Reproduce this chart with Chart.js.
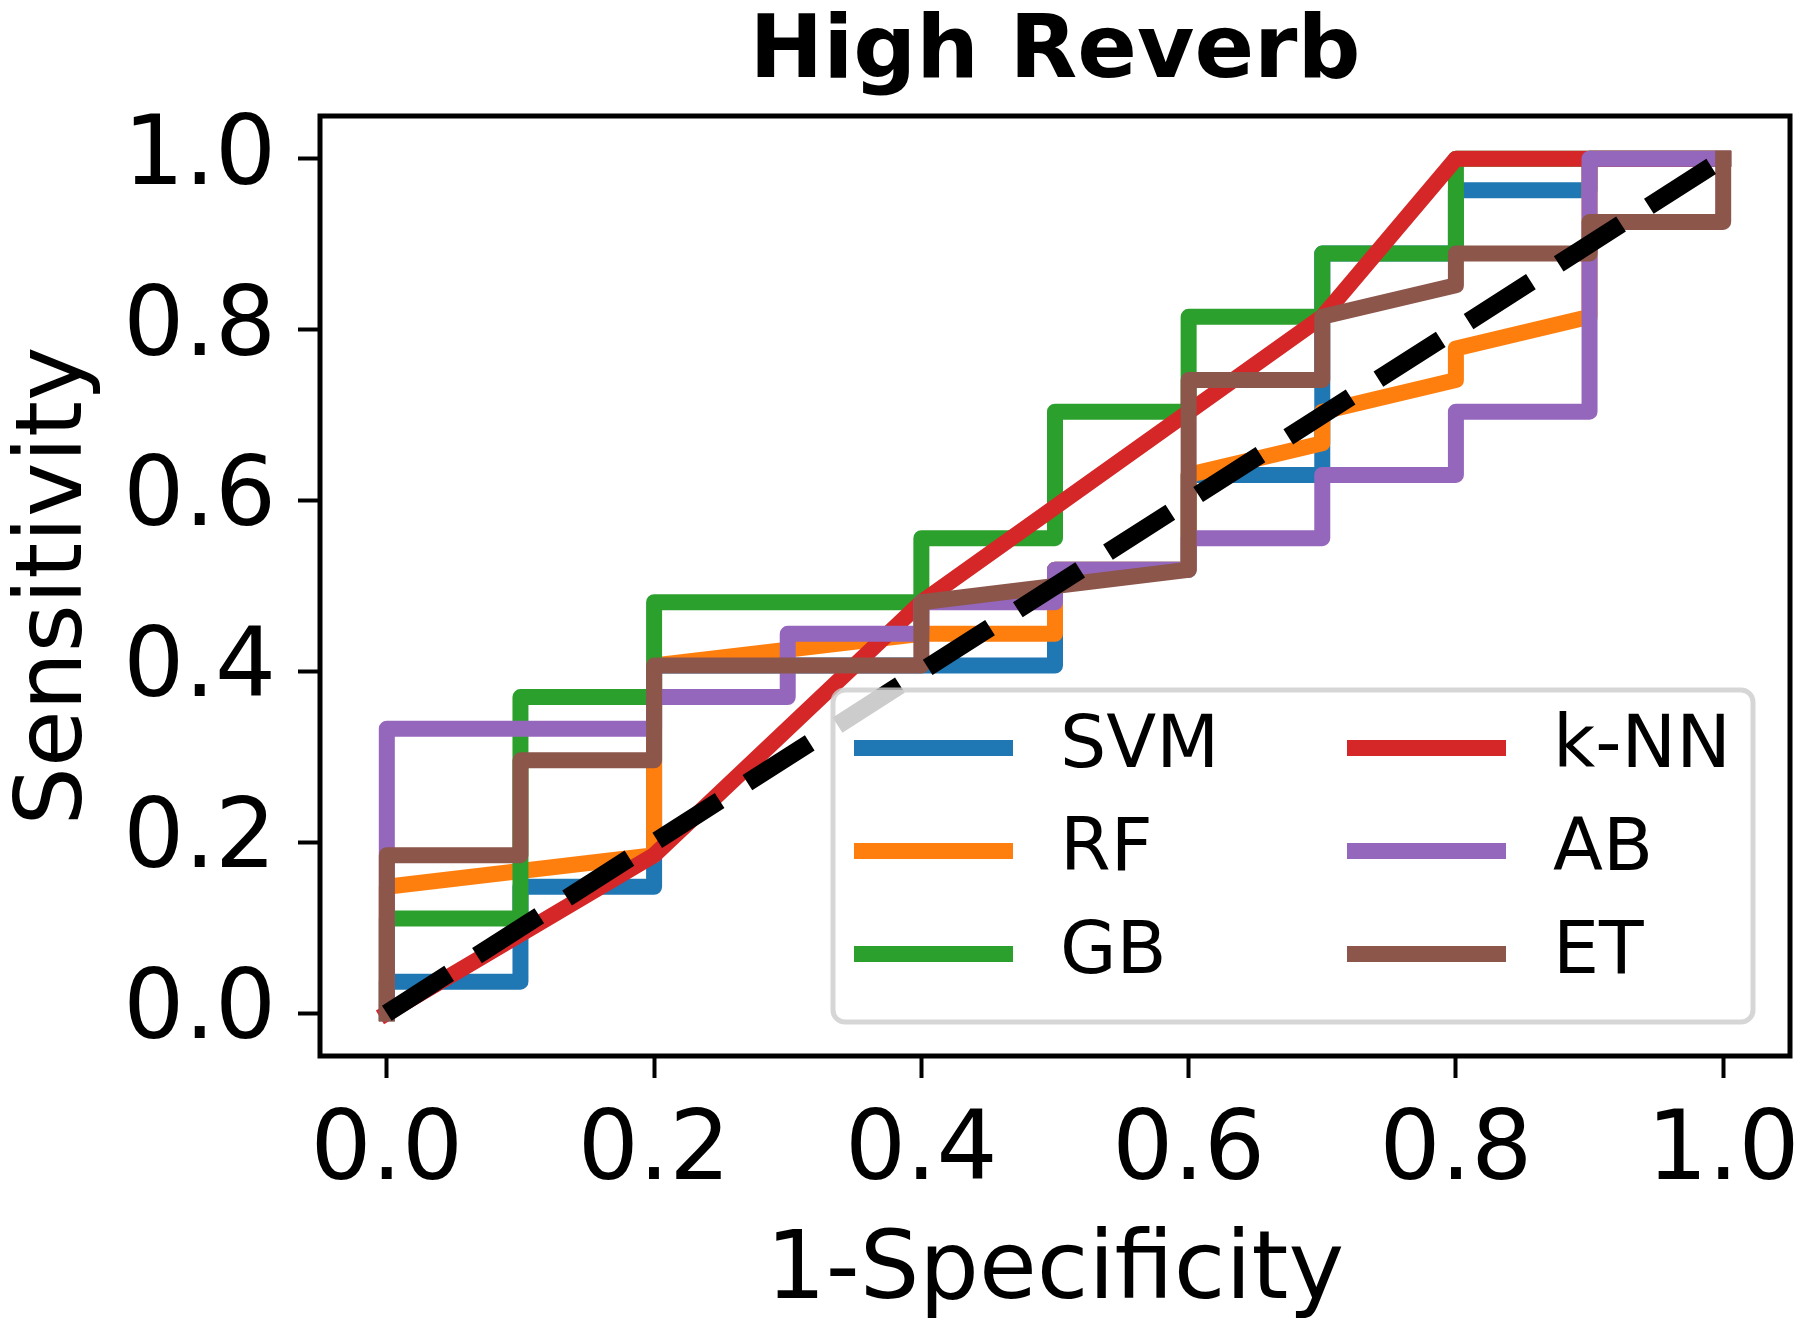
<!DOCTYPE html>
<html>
<head>
<meta charset="utf-8">
<script src="https://cdn.jsdelivr.net/npm/chart.js@4.4.1/dist/chart.umd.min.js"></script>
<style>
  html, body { margin: 0; padding: 0; background: #ffffff; }
  #wrap { width: 1800px; height: 1324px; }
</style>
</head>
<body>
<div id="wrap"><canvas id="c" width="1800" height="1324"></canvas></div>
<script>
// ---------- data ----------
const titleText = 'High Reverb';
const xLabel = '1-Specificity';
const yLabel = 'Sensitivity';
const tickValues = [0.0, 0.2, 0.4, 0.6, 0.8, 1.0];

const seriesNames  = ['SVM', 'RF', 'GB', 'k-NN', 'AB', 'ET'];
const seriesColors = ['#1f77b4', '#ff7f0e', '#2ca02c', '#d62728', '#9467bd', '#8c564b'];

const svmFpr = [0, 0, 0.1, 0.1, 0.2, 0.2, 0.5, 0.5, 0.6, 0.6, 0.7, 0.7, 0.8, 0.8, 0.9, 0.9, 1.0];
const svmTpr = [0, 0.037, 0.037, 0.148, 0.148, 0.407, 0.407, 0.519, 0.519, 0.630, 0.630, 0.889, 0.889, 0.963, 0.963, 1.0, 1.0];

const rfFpr = [0, 0, 0.2, 0.2, 0.4, 0.5, 0.5, 0.6, 0.6, 0.7, 0.7, 0.8, 0.8, 0.9, 0.9, 1.0];
const rfTpr = [0, 0.148, 0.185, 0.407, 0.444, 0.444, 0.519, 0.519, 0.630, 0.667, 0.704, 0.741, 0.778, 0.815, 1.0, 1.0];

const gbFpr = [0, 0, 0.1, 0.1, 0.2, 0.2, 0.4, 0.4, 0.5, 0.5, 0.6, 0.6, 0.7, 0.7, 0.8, 0.8, 1.0];
const gbTpr = [0, 0.111, 0.111, 0.370, 0.370, 0.481, 0.481, 0.556, 0.556, 0.704, 0.704, 0.815, 0.815, 0.889, 0.889, 1.0, 1.0];

const knnFpr = [0, 0.2, 0.4, 0.7, 0.8, 1.0];
const knnTpr = [0, 0.185, 0.481, 0.815, 1.0, 1.0];

const abFpr = [0, 0, 0.2, 0.2, 0.3, 0.3, 0.4, 0.4, 0.5, 0.5, 0.6, 0.6, 0.7, 0.7, 0.8, 0.8, 0.9, 0.9, 1.0];
const abTpr = [0, 0.333, 0.333, 0.370, 0.370, 0.444, 0.444, 0.481, 0.481, 0.519, 0.519, 0.556, 0.556, 0.630, 0.630, 0.704, 0.704, 1.0, 1.0];

const etFpr = [0, 0, 0.1, 0.1, 0.2, 0.2, 0.4, 0.4, 0.6, 0.6, 0.7, 0.7, 0.8, 0.8, 0.9, 0.9, 1.0, 1.0];
const etTpr = [0, 0.185, 0.185, 0.296, 0.296, 0.407, 0.407, 0.481, 0.519, 0.741, 0.741, 0.815, 0.852, 0.889, 0.889, 0.926, 0.926, 1.0];

const chanceFpr = [0, 1];
const chanceTpr = [0, 1];

// ---------- helpers ----------
const FONT = '"DejaVu Sans", "Liberation Sans", sans-serif';
function pts(xs, ys) { return xs.map((x, i) => ({ x: x, y: ys[i] })); }

const curveFpr = [svmFpr, rfFpr, gbFpr, knnFpr, abFpr, etFpr];
const curveTpr = [svmTpr, rfTpr, gbTpr, knnTpr, abTpr, etTpr];

const datasets = seriesNames.map((name, i) => ({
  label: name,
  data: pts(curveFpr[i], curveTpr[i]),
  showLine: true,
  borderColor: seriesColors[i],
  backgroundColor: seriesColors[i],
  borderWidth: 16,
  borderJoinStyle: 'round',
  borderCapStyle: 'square',
  pointRadius: 0,
  tension: 0,
  fill: false,
  order: seriesNames.length - i
}));
datasets.push({
  label: 'chance',
  data: pts(chanceFpr, chanceTpr),
  showLine: true,
  borderColor: '#000000',
  borderWidth: 18,
  borderDash: [74, 33],
  borderCapStyle: 'butt',
  pointRadius: 0,
  fill: false,
  order: 0
});

// ---------- plugins ----------
const whiteBg = {
  id: 'whiteBg',
  beforeDraw(chart) {
    const ctx = chart.ctx;
    ctx.save();
    ctx.fillStyle = '#ffffff';
    ctx.fillRect(0, 0, chart.width, chart.height);
    ctx.restore();
  }
};

const frame = {
  id: 'frame',
  afterDatasetsDraw(chart) {
    const { ctx, chartArea: a } = chart;
    ctx.save();
    ctx.strokeStyle = '#000000';
    ctx.lineWidth = 5;
    ctx.strokeRect(a.left, a.top, a.right - a.left, a.bottom - a.top);
    ctx.restore();
  }
};

const boxLegend = {
  id: 'boxLegend',
  afterDraw(chart) {
    const { ctx, chartArea: a } = chart;
    const w = 920, h = 332;
    const right = a.right - 37, bottom = a.bottom - 34;
    const left = right - w, top = bottom - h;
    ctx.save();
    ctx.beginPath();
    ctx.roundRect(left, top, w, h, 12);
    ctx.fillStyle = 'rgba(255,255,255,0.8)';
    ctx.fill();
    ctx.lineWidth = 5;
    ctx.strokeStyle = 'rgba(204,204,204,0.8)';
    ctx.stroke();
    ctx.font = '73px ' + FONT;
    ctx.textBaseline = 'middle';
    ctx.textAlign = 'left';
    const rows = 3;
    for (let i = 0; i < seriesNames.length; i++) {
      const col = Math.floor(i / rows), row = i % rows;
      const hx = left + 21 + col * 493;
      const cy = top + 58 + row * 103;
      ctx.strokeStyle = seriesColors[i];
      ctx.lineWidth = 16;
      ctx.lineCap = 'butt';
      ctx.beginPath();
      ctx.moveTo(hx, cy);
      ctx.lineTo(hx + 159, cy);
      ctx.stroke();
      ctx.fillStyle = '#000000';
      ctx.fillText(seriesNames[i], hx + 206, cy);
    }
    ctx.restore();
  }
};

Chart.defaults.color = '#000000';
Chart.defaults.font.family = FONT;

new Chart(document.getElementById('c'), {
  type: 'scatter',
  data: { datasets: datasets },
  options: {
    responsive: false,
    animation: false,
    devicePixelRatio: 1,
    events: [],
    layout: { padding: { left: 0, right: 10, top: 0, bottom: 0 } },
    plugins: {
      legend: { display: false },
      tooltip: { enabled: false },
      title: {
        display: true,
        text: titleText,
        fullSize: false,
        color: '#000000',
        font: { family: FONT, size: 88, weight: 'bold', lineHeight: 1 },
        padding: { top: 10, bottom: 18 }
      }
    },
    scales: {
      x: {
        type: 'linear',
        position: 'bottom',
        min: -0.05,
        max: 1.05,
        afterBuildTicks(scale) { scale.ticks = tickValues.map(v => ({ value: v })); },
        afterFit(scale) { scale.height = 268; scale.paddingLeft = 0; scale.paddingRight = 0; },
        border: { display: false },
        grid: { drawOnChartArea: false, drawTicks: true, tickLength: 22, tickWidth: 4, tickColor: '#000000' },
        ticks: {
          autoSkip: false, maxRotation: 0, padding: 28, color: '#000000',
          font: { family: FONT, size: 96, lineHeight: 1 },
          callback: v => Number(v).toFixed(1)
        },
        title: {
          display: true, text: xLabel, color: '#000000',
          font: { family: FONT, size: 94, lineHeight: 1 },
          padding: { top: 0, bottom: 3 }
        }
      },
      y: {
        type: 'linear',
        position: 'left',
        min: -0.05,
        max: 1.05,
        afterBuildTicks(scale) { scale.ticks = tickValues.map(v => ({ value: v })); },
        afterFit(scale) { scale.width = 320; scale.paddingTop = 0; scale.paddingBottom = 0; },
        border: { display: false },
        grid: { drawOnChartArea: false, drawTicks: true, tickLength: 22, tickWidth: 4, tickColor: '#000000' },
        ticks: {
          autoSkip: false, padding: 22, color: '#000000',
          font: { family: FONT, size: 96, lineHeight: 1 },
          callback: v => Number(v).toFixed(1)
        },
        title: {
          display: true, text: yLabel, color: '#000000',
          font: { family: FONT, size: 92, lineHeight: 1 },
          padding: { top: 11, bottom: 0 }
        }
      }
    }
  },
  plugins: [whiteBg, frame, boxLegend]
});
</script>
</body>
</html>
